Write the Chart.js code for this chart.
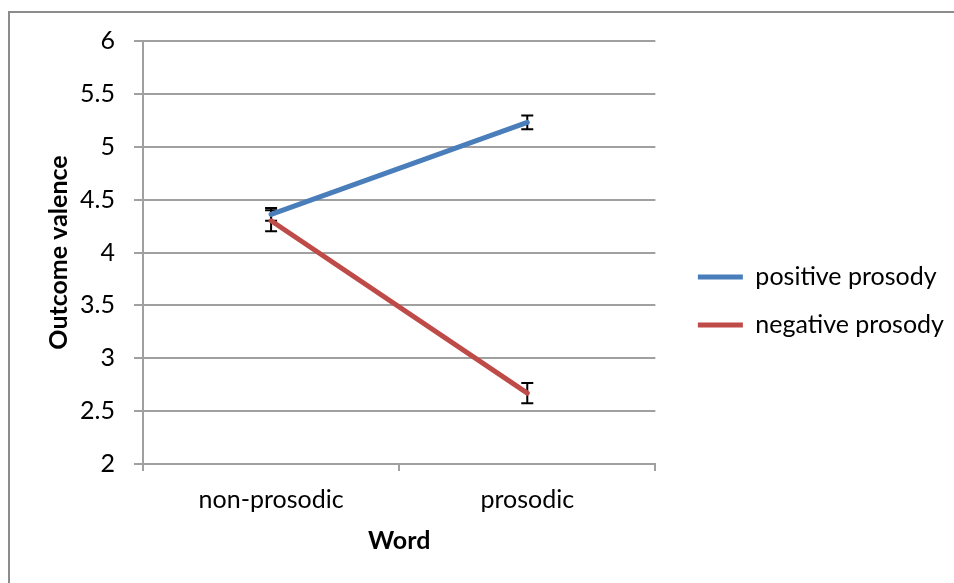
<!DOCTYPE html>
<html lang="en">
<head>
    <meta charset="UTF-8">
    <title>Outcome valence by word and prosody</title>
    <style>
        body {
            margin: 0;
            padding: 0;
            background: #fff;
            overflow: hidden;
        }

        .frame {
            position: absolute;
            left: 8px;
            top: 11px;
            width: 1000px;
            height: 700px;
            border: 2px solid #8c8c8c;
        }

        .chart-container {
            position: absolute;
            left: 0;
            top: 0;
            width: 954px;
            height: 583px;
        }
    </style>
</head>
<body>
    <div class="frame"></div>
    <div class="chart-container">
        <canvas id="valenceChart" width="954" height="583"></canvas>
    </div>

    <script src="https://cdn.jsdelivr.net/npm/chart.js"></script>
    <script>
        // Chart data
        const categories = ['non-prosodic', 'prosodic'];
        const seriesNames = ['positive prosody', 'negative prosody'];
        const positiveValues = [4.36, 5.23];
        const positiveErrors = [0.06, 0.065];
        const negativeValues = [4.30, 2.67];
        const negativeErrors = [0.10, 0.095];
        const yTicks = [2, 2.5, 3, 3.5, 4, 4.5, 5, 5.5, 6];

        const FONT = 'Lato, "Open Sans", sans-serif';
        const GRID = '#a0a0a0';

        // Draw error bars under the lines using the chart's own scales
        const errorBarPlugin = {
            id: 'errorBars',
            beforeDatasetsDraw(chart) {
                const ctx = chart.ctx;
                const yScale = chart.scales.y;
                ctx.save();
                ctx.strokeStyle = '#000';
                ctx.lineWidth = 2;
                chart.data.datasets.forEach((ds, i) => {
                    const meta = chart.getDatasetMeta(i);
                    meta.data.forEach((pt, j) => {
                        const v = ds.data[j];
                        const e = ds.errors[j];
                        const yTop = yScale.getPixelForValue(v + e);
                        const yBot = yScale.getPixelForValue(v - e);
                        const x = pt.x;
                        ctx.beginPath();
                        ctx.moveTo(x, yTop);
                        ctx.lineTo(x, yBot);
                        ctx.moveTo(x - 6, yTop);
                        ctx.lineTo(x + 6, yTop);
                        ctx.moveTo(x - 6, yBot);
                        ctx.lineTo(x + 6, yBot);
                        ctx.stroke();
                    });
                });
                ctx.restore();
            }
        };

        const ctx = document.getElementById('valenceChart').getContext('2d');
        const chart = new Chart(ctx, {
            type: 'line',
            data: {
                labels: categories,
                datasets: [{
                    label: seriesNames[0],
                    data: positiveValues,
                    errors: positiveErrors,
                    borderColor: '#4a7ebb',
                    backgroundColor: '#4a7ebb',
                    borderWidth: 5,
                    borderCapStyle: 'round',
                    pointRadius: 0,
                    fill: false
                }, {
                    label: seriesNames[1],
                    data: negativeValues,
                    errors: negativeErrors,
                    borderColor: '#be4b48',
                    backgroundColor: '#be4b48',
                    borderWidth: 5,
                    borderCapStyle: 'round',
                    pointRadius: 0,
                    fill: false
                }]
            },
            options: {
                responsive: false,
                animation: false,
                layout: {
                    padding: { top: 41, right: 0, bottom: 22, left: 0 }
                },
                plugins: {
                    tooltip: { enabled: false },
                    legend: {
                        position: 'right',
                        maxWidth: 400,
                        labels: {
                            usePointStyle: true,
                            pointStyle: 'line',
                            pointStyleWidth: 45,
                            padding: 23,
                            color: '#000',
                            font: { family: FONT, size: 25 }
                        }
                    }
                },
                scales: {
                    x: {
                        type: 'category',
                        offset: true,
                        grid: {
                            offset: true,
                            drawOnChartArea: false,
                            drawTicks: true,
                            tickLength: 7,
                            color: GRID,
                            lineWidth: 2
                        },
                        border: { color: GRID, width: 2 },
                        ticks: {
                            color: '#000',
                            padding: 14,
                            font: { family: FONT, size: 25 }
                        },
                        title: {
                            display: true,
                            text: 'Word',
                            color: '#000',
                            padding: { top: 0, bottom: 5 },
                            font: { family: FONT, size: 25, weight: 'bold' }
                        },
                        afterFit(scale) { scale.height = 97; }
                    },
                    y: {
                        min: 2,
                        max: 6,
                        afterBuildTicks(scale) {
                            scale.ticks = yTicks.map(v => ({ value: v }));
                        },
                        grid: {
                            color: GRID,
                            lineWidth: 2,
                            tickLength: 9
                        },
                        border: { color: GRID, width: 2 },
                        ticks: {
                            color: '#000',
                            padding: 19,
                            font: { family: FONT, size: 25 },
                            callback: (value) => String(value)
                        },
                        title: {
                            display: true,
                            text: 'Outcome valence',
                            color: '#000',
                            padding: { top: 44, bottom: 0 },
                            font: { family: FONT, size: 25, weight: 'bold' }
                        },
                        afterFit(scale) { scale.width = 143; }
                    },
                    // empty axis that only keeps a gap between plot and legend
                    gap: {
                        type: 'linear',
                        position: 'right',
                        grid: { display: false },
                        border: { display: false },
                        ticks: { display: false },
                        afterFit(scale) { scale.width = 19.5; }
                    }
                }
            },
            plugins: [errorBarPlugin]
        });
    </script>
</body>
</html>
